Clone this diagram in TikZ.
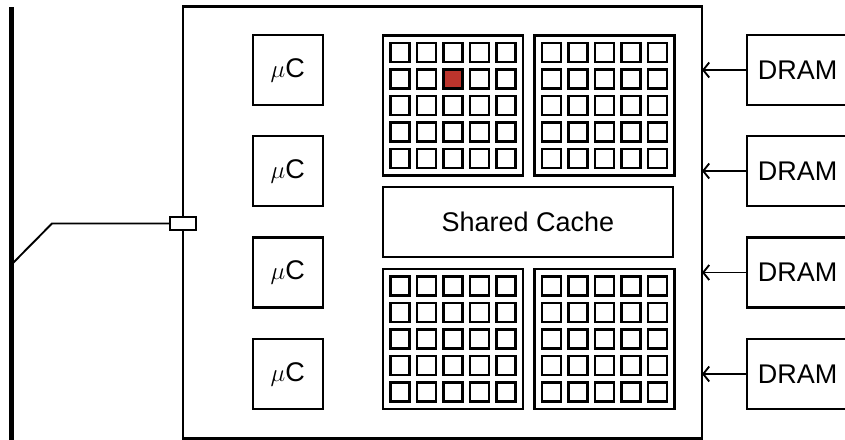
\documentclass[tikz,border=0pt]{standalone}
\usepackage{fontspec}
\setmainfont{Liberation Sans}
\usetikzlibrary{arrows.meta}
\definecolor{corered}{RGB}{187,52,44}
\newcommand{\lbl}{\fontsize{27}{31}\selectfont}

\tikzset{
  blk/.style={draw,line width=2.2pt,fill=white,inner sep=0pt,outer sep=0pt},
  core/.style={draw,line width=2.2pt,minimum size=19pt,inner sep=0pt,outer sep=0pt},
  wire/.style={line width=1.9pt},
  arr/.style={line width=1.9pt,-{Straight Barb[length=6pt,width=15pt,line width=1.9pt]}}
}

\begin{document}
\begin{tikzpicture}[x=1pt,y=-1pt]
   \useasboundingbox (0,0) rectangle (845,439);
   \clip (0,0) rectangle (845,439);
   % off-chip bus
   \coordinate (bustop) at (11,7);
   \coordinate (busbot) at (11,450);
   \draw[line width=5pt] (bustop) -- (busbot);
   % the chip
   \node[blk,minimum width=519pt,minimum height=432pt] (chip) at (442.5,222.5) {};
   \node[blk,line width=1.9pt,minimum width=26pt,minimum height=12.5pt] (port) at (183,223.5) {};
   \coordinate (bend) at (52,223.5);
   \coordinate (tap) at (11,265);
   \draw[wire] (port.west) -- (bend) -- (tap);
   % memory controllers and DRAM channels
   \foreach \k/\y in {1/70,2/171,3/272.5,4/374}{
     \node[blk,minimum size=70pt] (mc\k) at (287.7,\y) {\lbl$\mu$C};
     \node[blk,minimum width=101pt,minimum height=70pt,anchor=west] (dram\k) at (747,\y) {\lbl DRAM};
     \draw[arr] (dram\k.west) -- (dram\k.west -| chip.east);
   }
   % shared cache
   \node[blk,minimum width=290.5pt,minimum height=70.5pt] (cache) at (528,222) {\lbl Shared Cache};
   % four 5x5 core tiles
   \foreach \gx/\gy/\g in {453/105.5/tl,604.5/105.5/tr,453/339/bl,604.5/339/br}{
     \node[blk,minimum size=140pt] (\g) at (\gx,\gy) {};
     \foreach \i in {0,...,4}
       \foreach \j in {0,...,4}
         \node[core] (\g-\i-\j) at (\gx-53+\i*26.5,\gy-53+\j*26.5) {};
   }
   \filldraw[fill=corered,draw=black,line width=2.2pt] (tl-2-1.north west) rectangle (tl-2-1.south east);
\end{tikzpicture}
\end{document}
